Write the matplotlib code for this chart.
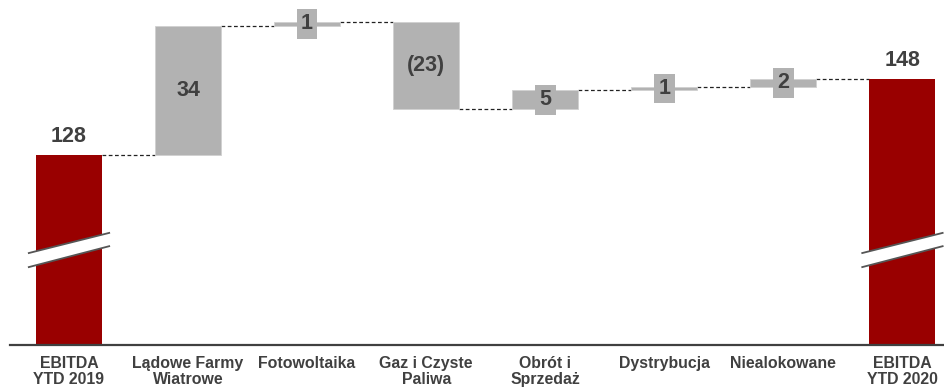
import matplotlib
matplotlib.use("Agg")
import matplotlib.pyplot as plt
from matplotlib.patches import Polygon

categories = ["EBITDA\nYTD 2019", "Lądowe Farmy\nWiatrowe", "Fotowoltaika",
              "Gaz i Czyste\nPaliwa", "Obrót i\nSprzedaż", "Dystrybucja",
              "Niealokowane", "EBITDA\nYTD 2020"]
start_value = 128
deltas = [34, 1, -23, 5, 1, 2]
end_value = 148

RED = "#990000"
GRAY = "#b2b2b2"
TEXT = "#404040"

plt.rcParams["font.family"] = ["Liberation Sans", "DejaVu Sans"]
plt.rcParams["font.weight"] = "bold"

fig = plt.figure(figsize=(9.44, 3.87), dpi=100)
ax = fig.add_axes([10 / 944, 42 / 387, 934 / 944, 345 / 387])

y_floor = 78
ax.set_xlim(-0.4955, 7.349)
ax.set_ylim(y_floor, y_floor + 345 / 3.8)

width = 0.555
x = list(range(len(categories)))

# totals
for xi, val in ((x[0], start_value), (x[-1], end_value)):
    ax.bar(xi, val - y_floor, bottom=y_floor, width=width, color=RED, zorder=2)
    ax.text(xi, val + 2.2, f"{val}", ha="center", va="bottom",
            fontsize=15.5, color=TEXT, fontweight="bold")

# changes
level = start_value
levels = [level]
for i, d in enumerate(deltas, start=1):
    ax.bar(x[i], d, bottom=level, width=width, color=GRAY,
           edgecolor="#d0d0d0", linewidth=0.6, zorder=2)
    label = f"({abs(d)})" if d < 0 else f"{d}"
    ax.text(x[i], level + d / 2, label, ha="center", va="center",
            fontsize=15.5, color=TEXT, fontweight="bold", zorder=4,
            bbox=dict(boxstyle="square,pad=0.2", fc=GRAY, ec="none"))
    level += d
    levels.append(level)

# dashed connectors between neighbouring bars
for i, lv in enumerate(levels):
    ax.plot([x[i] + width / 2, x[i + 1] - width / 2], [lv, lv],
            color="#222222", lw=0.9, ls=(0, (3, 2)), zorder=1)

# axis-break marks on total bars
for xi in (x[0], x[-1]):
    x0, x1 = xi - width / 2 - 0.06, xi + width / 2 + 0.06
    top = [(x0, 102.2), (x1, 107.5)]
    bot = [(x0, 98.5), (x1, 104.0)]
    ax.add_patch(Polygon([top[0], top[1], bot[1], bot[0]], closed=True,
                         fc="white", ec="none", zorder=3, clip_on=True))
    for seg in (top, bot):
        ax.plot([seg[0][0], seg[1][0]], [seg[0][1], seg[1][1]],
                color="#555555", lw=1.3, zorder=3)

ax.set_xticks(x)
ax.set_xticklabels(categories, fontsize=11.4, fontweight="bold", color=TEXT,
                   linespacing=1.1)
ax.tick_params(axis="x", length=0, pad=8)
ax.set_yticks([])
for side in ("top", "right", "left"):
    ax.spines[side].set_visible(False)
ax.spines["bottom"].set_color(TEXT)
ax.spines["bottom"].set_linewidth(1.6)

fig.savefig("out.png", dpi=100)
